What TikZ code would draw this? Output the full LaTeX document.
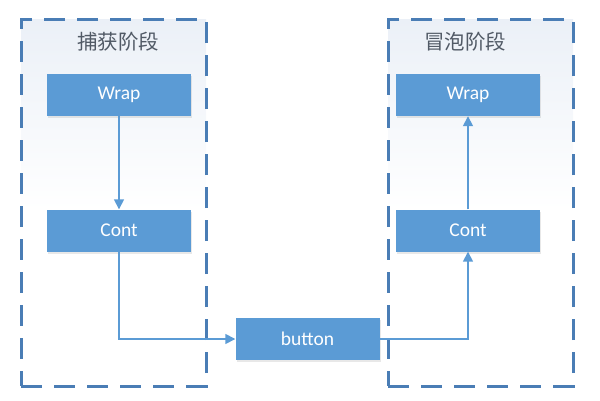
\documentclass[tikz,border=0pt]{standalone}
\usepackage{fontspec}
\setmainfont{Carlito}
\newfontfamily\cjkfont{Noto Sans CJK SC}
\usetikzlibrary{arrows.meta,shadows}
\definecolor{boxblue}{HTML}{5B9BD5}
\definecolor{framblue}{HTML}{4A7DB5}
\definecolor{titlegray}{HTML}{515A66}
\definecolor{topshade}{HTML}{EBF0F7}
\tikzset{
  stage/.style={draw=framblue, line width=3pt, dash pattern=on 21pt off 12pt,
    minimum width=185pt, minimum height=367pt, inner sep=0pt},
  box/.style={fill=boxblue, text=white, minimum width=144pt, minimum height=42pt,
    inner sep=0pt, font=\fontsize{19.5}{22}\selectfont,
    drop shadow={opacity=0.18, shadow xshift=1pt, shadow yshift=-2pt}},
  title/.style={text=titlegray, font=\cjkfont\fontsize{20.5}{24}\selectfont},
  arr/.style={draw=boxblue, line width=1.6pt, -{Triangle[length=10pt,width=10pt]}}
}
\begin{document}
\begin{tikzpicture}[x=1pt,y=-1pt]
  \useasboundingbox (0,0) rectangle (600,400);
  % soft background of the two stages
  \shade[top color=topshade, bottom color=white] (21,19) rectangle (206,210);
  \shade[top color=topshade, bottom color=white] (388,19) rectangle (573,210);
  \node[stage] (f1) at (113.5,202.5) {};
  \node[stage] (f2) at (480.5,202.5) {};
  \node[title] (t1) at (118,42) {捕获阶段};
  \node[title] (t2) at (465,42) {冒泡阶段};

  \node[box] (w1) at (119,95) {Wrap};
  \node[box] (c1) at (119,230.5) {Cont};
  \node[box] (b) at (307.5,339) {button};
  \node[box] (c2) at (468,230.5) {Cont};
  \node[box] (w2) at (468,95) {Wrap};

  \draw[arr] (w1) -- (c1);
  \draw[arr] (c1) |- (b);
  \draw[arr] (b) -| (c2);
  \draw[arr] (c2) -- (w2);
\end{tikzpicture}
\end{document}
